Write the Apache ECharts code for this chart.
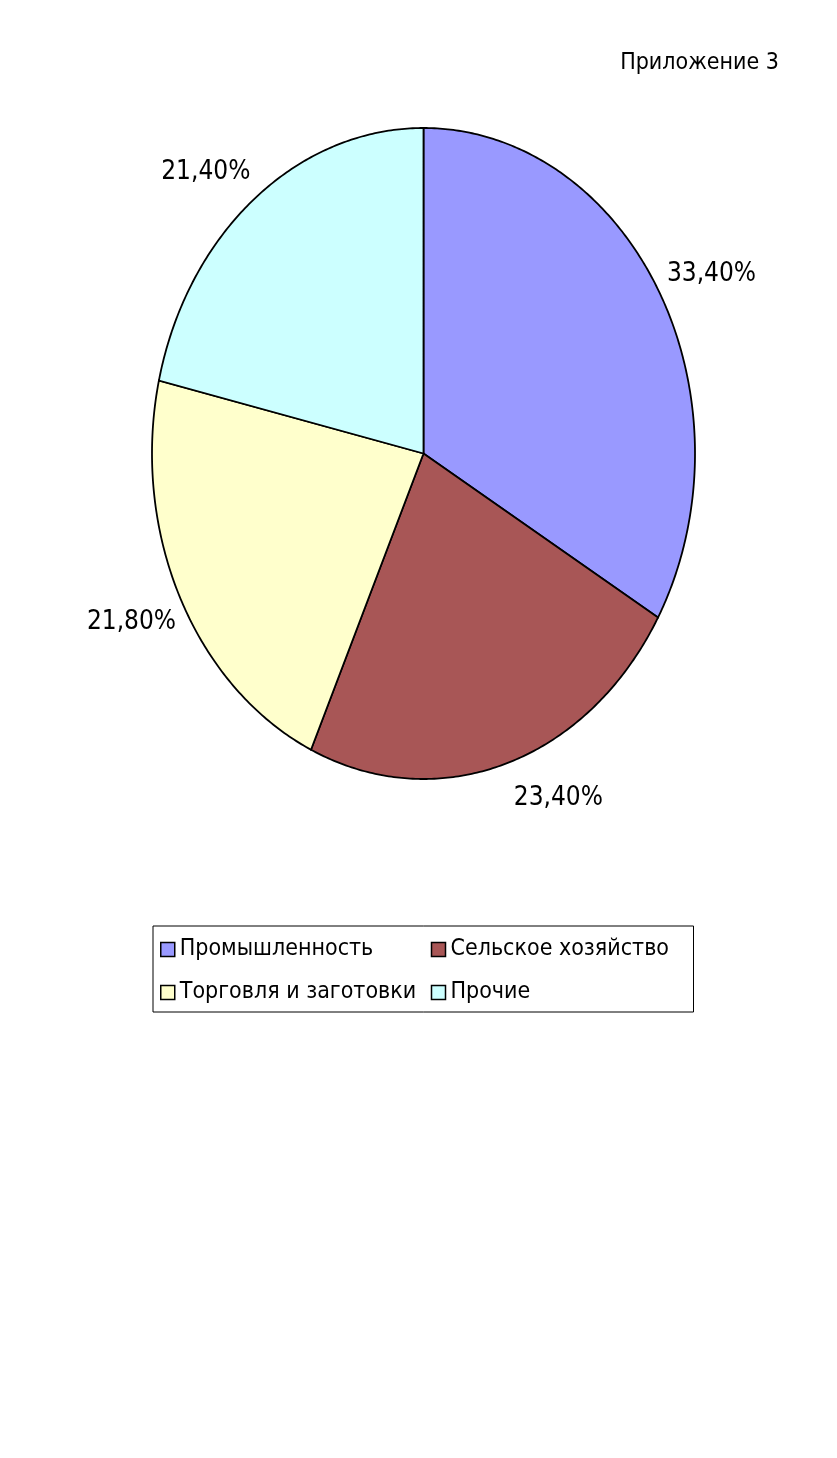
<!DOCTYPE html>
<html>
<head>
<meta charset="utf-8">
<script src="https://cdn.jsdelivr.net/npm/echarts@6/dist/echarts.min.js"></script>
<style>
html, body { margin: 0; padding: 0; background: #fff; }
#pie { width: 837px; height: 1458px; }
</style>
</head>
<body>
<div id="pie"></div>
<script>
// доли отраслей, %
const categories = ['Промышленность', 'Сельское хозяйство', 'Торговля и заготовки', 'Прочие']
const shares = [33.4, 23.4, 21.8, 21.4]
const colors = ['#9999ff', '#a85656', '#ffffcc', '#ccffff']

const FONT = "'DejaVu Sans Condensed', 'Liberation Sans Narrow', 'DejaVu Sans', sans-serif"

// эллипс как в исходной диаграмме Excel
const cx = 423.5
const cy = 453.5
const rx = 271.5
const ry = 325.5

const total = shares.reduce((a, b) => a + b, 0)

function makeRender(idx) {
  return function(params, api) {
    let before = 0
    for (let i = 0; i < idx; i++) before += shares[i]
    const a0 = before / total * Math.PI * 2
    const a1 = (before + shares[idx]) / total * Math.PI * 2
    const pts = [[cx, cy]]
    const steps = Math.max(2, Math.ceil((a1 - a0) / 0.01))
    for (let k = 0; k <= steps; k++) {
      const t = a0 + (a1 - a0) * k / steps
      pts.push([cx + rx * Math.sin(t), cy - ry * Math.cos(t)])
    }
    const mid = (a0 + a1) / 2
    const s = Math.sin(mid)
    const c = Math.cos(mid)
    const ex = cx + rx * s
    const ey = cy - ry * c
    const text = shares[idx].toFixed(2).replace('.', ',') + '%'
    // подписи справа чуть ниже, слева чуть выше
    const dy = c > 0 ? (s > 0 ? -4 : -14) : (s > 0 ? 22 : 12)
    return {
      type: 'group',
      children: [
        {
          type: 'polygon',
          shape: { points: pts },
          style: { fill: colors[idx], stroke: '#000', lineWidth: 1.8 }
        },
        {
          type: 'text',
          style: {
            text: text,
            x: ex + (s > 0 ? 8 : -4),
            y: ey + dy,
            align: s > 0 ? 'left' : 'right',
            verticalAlign: c > 0 ? 'bottom' : 'top',
            fontSize: 26,
            fontFamily: FONT,
            fill: '#000'
          }
        }
      ]
    }
  }
}

const chart = echarts.init(document.getElementById('pie'))
chart.setOption({
  animation: false,
  title: {
    text: 'Приложение 3',
    right: 53,
    top: 47,
    textStyle: { fontSize: 23, fontWeight: 'normal', color: '#000', fontFamily: FONT }
  },
  legend: {
    data: categories,
    left: 153,
    top: 926,
    width: 540,
    orient: 'horizontal',
    icon: 'rect',
    itemWidth: 14,
    itemHeight: 14,
    itemGap: 8,
    padding: [6, 0, 2, 7],
    borderColor: '#000',
    borderWidth: 1,
    selectedMode: false,
    itemStyle: { borderColor: '#000', borderWidth: 1.5 },
    textStyle: { fontSize: 23, fontFamily: FONT, color: '#000', width: 243, lineHeight: 35 }
  },
  series: categories.map((name, i) => ({
    type: 'custom',
    name: name,
    coordinateSystem: 'none',
    silent: true,
    itemStyle: { color: colors[i] },
    data: [0],
    renderItem: makeRender(i)
  }))
})
</script>
</body>
</html>
